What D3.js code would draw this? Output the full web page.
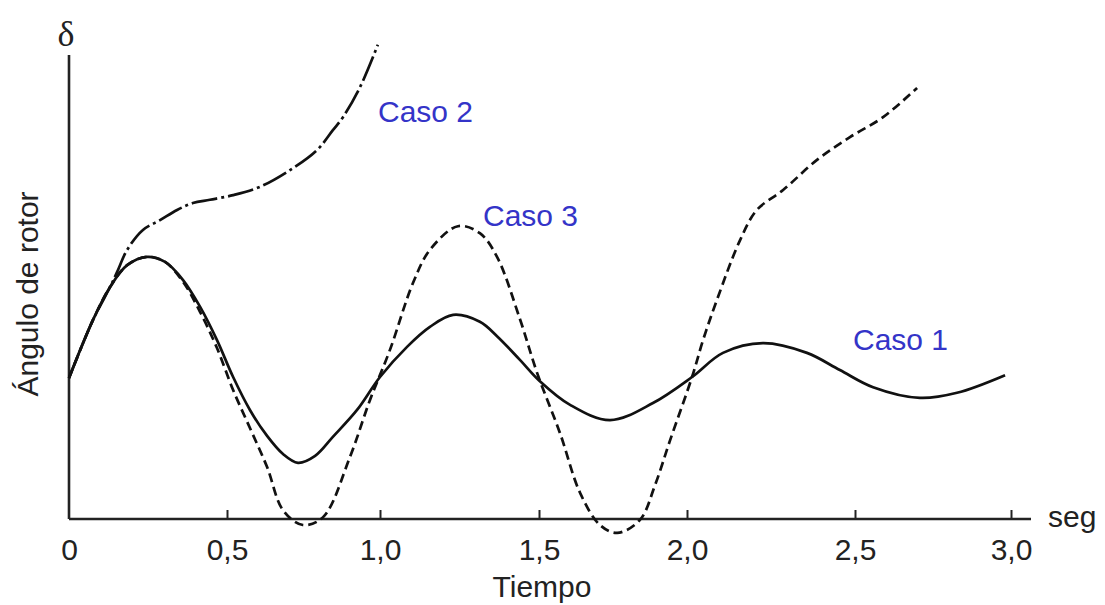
<!DOCTYPE html>
<html lang="es">
<head>
    <meta charset="UTF-8">
    <title>Ángulo de rotor - Casos 1, 2 y 3</title>
    <style>
        body, html {
            margin: 0;
            padding: 0;
            background: #ffffff;
            overflow: hidden;
        }
        svg {
            display: block;
            font-family: "Liberation Sans", Arial, sans-serif;
        }
        .tick-label {
            font-size: 30px;
            fill: #222;
        }
        .case-label {
            font-size: 30px;
            fill: #3434c8;
        }
        .curve {
            fill: none;
            stroke: #111;
            stroke-width: 2.7px;
        }
    </style>
</head>
<body>
    <div id="chart"></div>

    <script src="https://d3js.org/d3.v7.min.js"></script>
    <script>
        // Tiempo (seg) and rotor angle (arbitrary units, 0-100 = axis height)
        const caso1T = [0, 0.076, 0.130, 0.184, 0.247, 0.304, 0.361, 0.415, 0.468, 0.520, 0.575, 0.631, 0.683, 0.732, 0.788, 0.846, 0.925,
            1.0, 1.085, 1.157, 1.230, 1.314, 1.368, 1.440, 1.503, 1.605, 1.740, 1.885, 2.015, 2.107, 2.226, 2.357, 2.455, 2.558, 2.708, 2.827, 2.981];
        const caso1V = [30.4, 42.9, 50.0, 54.7, 56.5, 55.4, 51.5, 45.7, 38.6, 30.6, 23.5, 17.9, 14.0, 12.1, 13.6, 17.7, 23.5,
            30.6, 37.1, 41.4, 44.0, 42.5, 39.4, 34.3, 29.7, 24.6, 21.3, 25.0, 30.6, 35.8, 37.9, 35.8, 32.1, 28.4, 26.1, 27.2, 31.0];

        const caso2T = [0, 0.076, 0.130, 0.152, 0.184, 0.234, 0.288, 0.342, 0.392, 0.446, 0.520, 0.608, 0.706, 0.794, 0.846, 0.879, 0.935, 0.993];
        const caso2V = [30.4, 42.9, 50.0, 53.2, 58.0, 62.3, 64.4, 66.6, 68.1, 68.8, 69.8, 71.6, 75.2, 79.5, 83.8, 86.6, 93.1, 102.2];

        const caso3T = [0, 0.076, 0.130, 0.184, 0.247, 0.304, 0.361, 0.415, 0.468, 0.520, 0.575, 0.631, 0.683, 0.748, 0.814, 0.902, 0.967,
            1.031, 1.104, 1.157, 1.245, 1.314, 1.368, 1.440, 1.494, 1.571, 1.639, 1.706, 1.764, 1.841, 1.892, 1.943,
            2.015, 2.048, 2.089, 2.158, 2.208, 2.286, 2.387, 2.485, 2.590, 2.699];
        const caso3V = [30.4, 42.9, 50.0, 54.7, 56.5, 55.4, 51.1, 44.6, 36.9, 27.8, 19.6, 11.2, 1.9, -1.3, 0.4, 13.4, 25.6,
            36.4, 50.9, 58.0, 63.1, 61.6, 56.5, 43.1, 31.5, 18.5, 5.6, -1.3, -3.0, -0.2, 7.3, 17.0,
            30.6, 38.6, 47.2, 60.1, 66.6, 70.9, 77.4, 82.3, 86.6, 92.9];

        const tickValues = [0, 0.5, 1.0, 1.5, 2.0, 2.5, 3.0];
        const tickLabels = ["0", "0,5", "1,0", "1,5", "2,0", "2,5", "3,0"];

        const width = 1105, height = 605;

        const svg = d3.select("#chart")
            .append("svg")
            .attr("width", width)
            .attr("height", height);

        // the original drawing has slightly uneven tick spacing, so map each tick
        const x = d3.scaleLinear()
            .domain(tickValues)
            .range([69, 227, 380, 539, 687, 855, 1011]);
        const y = d3.scaleLinear()
            .domain([0, 100])
            .range([519, 55]);

        const originY = y(0);

        // axes
        svg.append("line")
            .attr("x1", x(0)).attr("x2", x(0))
            .attr("y1", y(100)).attr("y2", originY)
            .attr("stroke", "#222").attr("stroke-width", 2.6);
        svg.append("line")
            .attr("x1", x(0)).attr("x2", 1031)
            .attr("y1", originY).attr("y2", originY)
            .attr("stroke", "#222").attr("stroke-width", 2.6);

        const xAxis = d3.axisBottom(x)
            .tickValues(tickValues)
            .tickFormat((d, i) => tickLabels[i])
            .tickSizeInner(-9)
            .tickSizeOuter(0);

        const gx = svg.append("g")
            .attr("transform", `translate(0,${originY})`)
            .call(xAxis);
        gx.select(".domain").remove();
        gx.selectAll(".tick line")
            .attr("stroke", "#222")
            .attr("stroke-width", 2)
            .attr("display", d => d === 0 ? "none" : null);
        gx.selectAll(".tick text")
            .attr("class", "tick-label")
            .attr("fill", null)
            .attr("dy", null)
            .attr("y", 41);
        gx.attr("font-size", null).attr("font-family", null);

        // axis titles
        svg.append("text")
            .attr("class", "tick-label")
            .attr("x", 542).attr("y", 597)
            .attr("text-anchor", "middle")
            .text("Tiempo");

        svg.append("text")
            .attr("class", "tick-label")
            .attr("x", 1048).attr("y", 527)
            .text("seg");

        svg.append("text")
            .attr("class", "tick-label")
            .attr("transform", "translate(38,294) rotate(-90)")
            .attr("text-anchor", "middle")
            .text("Ángulo de rotor");

        svg.append("text")
            .attr("x", 66).attr("y", 46)
            .attr("text-anchor", "middle")
            .attr("font-family", "'Liberation Serif', 'Times New Roman', serif")
            .attr("font-size", 36)
            .attr("fill", "#222")
            .text("δ");

        // curves
        const line = d3.line()
            .x(d => x(d[0]))
            .y(d => y(d[1]))
            .curve(d3.curveCatmullRom.alpha(0.5));

        const series = [
            {t: caso2T, v: caso2V, dash: "26,4,3,4"},
            {t: caso3T, v: caso3V, dash: "9,5"},
            {t: caso1T, v: caso1V, dash: null}
        ];

        series.forEach(s => {
            svg.append("path")
                .attr("class", "curve")
                .attr("d", line(d3.zip(s.t, s.v)))
                .attr("stroke-dasharray", s.dash);
        });

        // case labels
        const labels = [
            {text: "Caso 2", x: 378, y: 122},
            {text: "Caso 3", x: 483, y: 226},
            {text: "Caso 1", x: 853, y: 350}
        ];
        svg.selectAll(".case-label")
            .data(labels)
            .join("text")
            .attr("class", "case-label")
            .attr("x", d => d.x)
            .attr("y", d => d.y)
            .text(d => d.text);
    </script>
</body>
</html>
